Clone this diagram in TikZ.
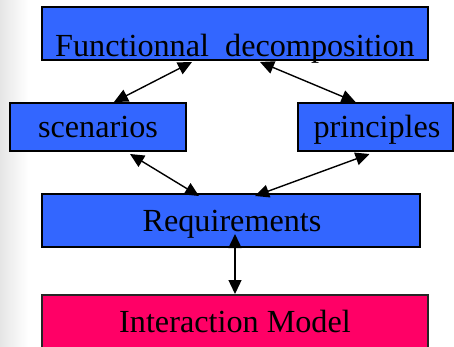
\documentclass[tikz,border=0pt]{standalone}
\usepackage{fontspec}
\setmainfont{Liberation Serif}
\usetikzlibrary{arrows.meta}
\definecolor{boxblue}{HTML}{3366FF}
\definecolor{boxpink}{HTML}{FF0066}
\tikzset{
  box/.style={draw=black, line width=1.5pt, rectangle, inner sep=0pt, outer sep=0pt},
  bluebox/.style={box, fill=boxblue},
  pinkbox/.style={box, fill=boxpink, draw=black!85},
  lbl/.style={anchor=base, inner sep=0pt, font=\fontsize{32.2}{36}\selectfont},
  tip/.style={Triangle[length=14pt,width=13pt]},
  link/.style={line width=1.4pt, {Triangle[length=14pt,width=13pt]}-{Triangle[length=14pt,width=13pt]}}
}
\begin{document}
\begin{tikzpicture}[x=1pt, y=-1pt]
  \useasboundingbox (0,0) rectangle (454,347);
  % soft grey edge on the left
  \shade[left color=black!10, right color=white] (0,0) rectangle (28,347);

  % boxes
  \node[bluebox, minimum width=386pt, minimum height=53pt] (fd) at (235,33.5) {};
  \node[bluebox, minimum width=176pt, minimum height=48pt] (sc) at (98,127) {};
  \node[bluebox, minimum width=155pt, minimum height=48pt] (pr) at (375.5,127) {};
  \node[bluebox, minimum width=378pt, minimum height=53pt] (rq) at (231,220.5) {};
  \node[pinkbox, minimum width=386pt, minimum height=56pt] (im) at (235,323) {};

  % labels
  \node[lbl] (fdt) at (235,57) {Functionnal\ \ decomposition};
  \node[lbl] (sct) at (98,138) {scenarios};
  \node[lbl] (prt) at (377,138) {principles};
  \node[lbl] (rqt) at (232,231) {Requirements};
  \node[lbl] (imt) at (235,332) {Interaction Model};

  % connectors
  \draw[link] ([xshift=-43pt,yshift=-2pt]fd.south) -- ([xshift=16pt,yshift=1pt]sc.north);
  \draw[link] ([xshift=25pt,yshift=-2pt]fd.south) -- ([xshift=-20pt,yshift=1pt]pr.north);
  \draw[link] ([xshift=32pt,yshift=-3pt]sc.south) -- ([xshift=-32pt,yshift=-2pt]rq.north);
  \draw[link] ([xshift=-6pt,yshift=-3pt]pr.south) -- ([xshift=24pt,yshift=-2pt]rq.north);
  \draw[link] ([xshift=4pt,yshift=13pt]rq.south) -- ([xshift=0pt,yshift=1pt]im.north);
\end{tikzpicture}
\end{document}
